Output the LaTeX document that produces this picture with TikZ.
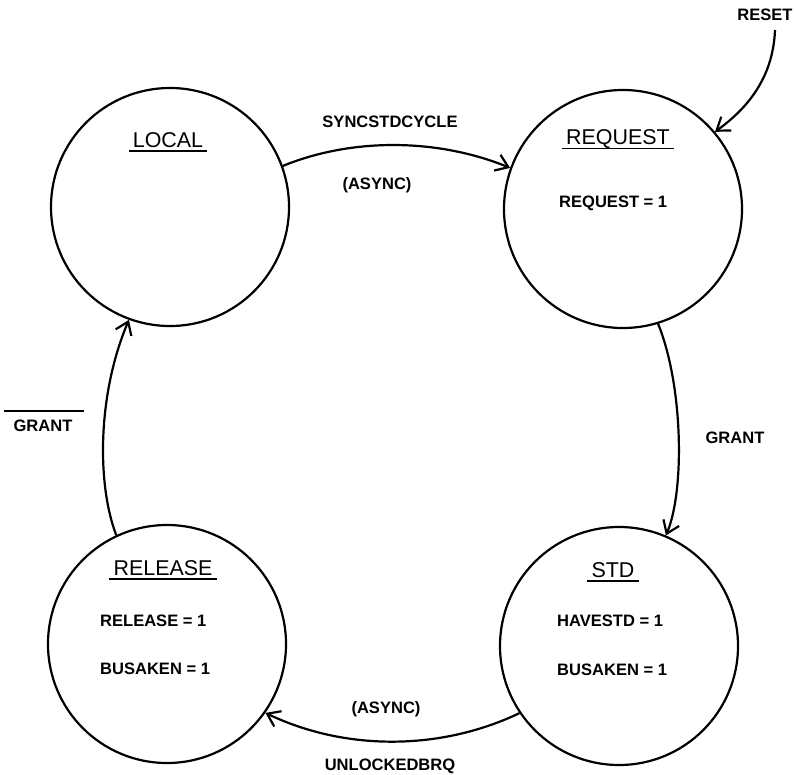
\documentclass[tikz,border=0pt]{standalone}
\usepackage{fontspec}
\setmainfont{Liberation Sans}
\usetikzlibrary{arrows.meta,calc}
\begin{document}
\begin{tikzpicture}[x=1bp,y=-1bp,
  state/.style={circle,draw,line width=2.2bp,minimum size=238bp,inner sep=0},
  title/.style={font=\fontsize{21.5}{24}\selectfont,inner sep=0},
  lab/.style={font=\bfseries\fontsize{16.6}{19}\selectfont,inner sep=0},
  trans/.style={line width=2.2bp,-{Straight Barb[length=12bp,width=17bp,line width=2.2bp]}},
  uline/.style={line width=1.8bp}]
\useasboundingbox (0,0) rectangle (794,775);

% states
\node[state] (local) at (170,207) {};
\node[state] (request) at (623,209) {};
\node[state] (std) at (619,646) {};
\node[state] (release) at (167,644) {};

% titles
\node[title] (tlocal) at (168,140) {LOCAL};
\node[title] (trequest) at (618,139) {REQUEST};
\node[title] (tstd) at (613,570) {STD};
\node[title] (trelease) at (163,568) {RELEASE};
\foreach \t in {tlocal,trequest,tstd,trelease}{
  \draw[uline] ($(\t.base west)+(-4,4)$) -- ($(\t.base east)+(4,4)$);
}

% state outputs
\node[lab,anchor=west] (o1) at (559,203) {REQUEST = 1};
\node[lab,anchor=west] (o2) at (557,621) {HAVESTD = 1};
\node[lab,anchor=west] (o3) at (557,670) {BUSAKEN = 1};
\node[lab,anchor=west] (o4) at (100,621) {RELEASE = 1};
\node[lab,anchor=west] (o5) at (100,669) {BUSAKEN = 1};

% transition labels
\node[lab] (l1) at (390,122) {SYNCSTDCYCLE};
\node[lab] (l2) at (377,185) {(ASYNC)};
\node[lab] (l3) at (765,15) {RESET};
\node[lab] (l4) at (735,438) {GRANT};
\node[lab] (l5) at (386,709) {(ASYNC)};
\node[lab] (l6) at (390,766) {UNLOCKEDBRQ};
\node[lab] (l7) at (43,426) {GRANT};
\draw[line width=1.4bp] ($(l7.north west)+(-9,-9)$) -- ($(l7.north east)+(11,-9)$);

% transitions
\coordinate (rs) at (775,30);
\draw[trans] (local.20) .. controls +(71,-29) and +(-71,-29) .. (request.160);
\draw[trans] (rs) .. controls (773,80) and (745,110) .. (request.40);
\draw[trans] (request.-73) .. controls (683,385) and (685,490) .. (std.67);
\draw[trans] (std.214) .. controls (440,751) and (345,751) .. (release.-35);
\draw[trans] (release.115) .. controls (97,485) and (97,395) .. (local.250);
\end{tikzpicture}
\end{document}
